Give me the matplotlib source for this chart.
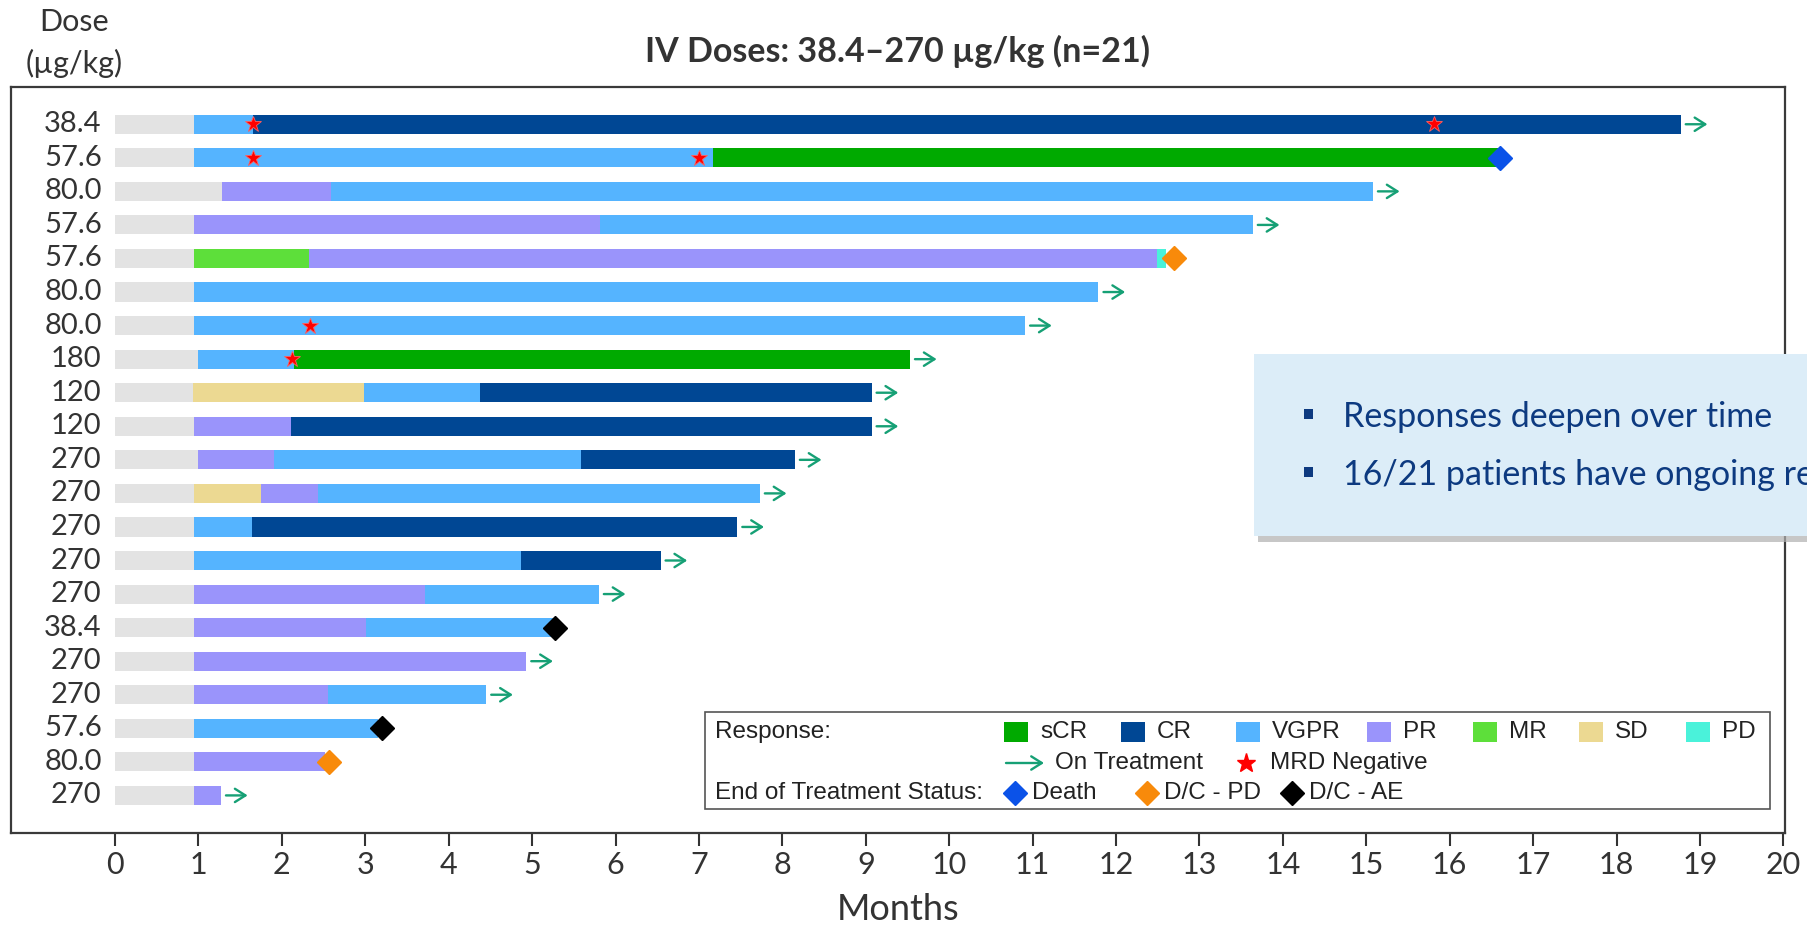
import matplotlib
matplotlib.use('Agg')
import matplotlib.pyplot as plt
from matplotlib.patches import Rectangle

plt.rcParams['font.family'] = ['Lato', 'DejaVu Sans']

# one row per patient, top to bottom
doses = ['38.4', '57.6', '80.0', '57.6', '57.6', '80.0', '80.0', '180', '120', '120', '270',
         '270', '270', '270', '270', '38.4', '270', '270', '57.6', '80.0', '270']
tx_start = [0.95, 0.95, 1.28, 0.95, 0.95, 0.95, 0.95, 0.99, 0.93, 0.95, 0.99,
            0.95, 0.95, 0.95, 0.95, 0.95, 0.95, 0.95, 0.95, 0.95, 0.95]
resp_seq = [
    ['VGPR', 'CR'],
    ['VGPR', 'sCR'],
    ['PR', 'VGPR'],
    ['PR', 'VGPR'],
    ['MR', 'PR', 'PD'],
    ['VGPR'],
    ['VGPR'],
    ['VGPR', 'sCR'],
    ['SD', 'VGPR', 'CR'],
    ['PR', 'CR'],
    ['PR', 'VGPR', 'CR'],
    ['SD', 'PR', 'VGPR'],
    ['VGPR', 'CR'],
    ['VGPR', 'CR'],
    ['PR', 'VGPR'],
    ['PR', 'VGPR'],
    ['PR'],
    ['PR', 'VGPR'],
    ['VGPR'],
    ['PR'],
    ['PR'],
]
resp_end = [
    [1.65, 18.77],
    [7.17, 16.60],
    [2.59, 15.08],
    [5.81, 13.64],
    [2.33, 12.49, 12.60],
    [11.79],
    [10.91],
    [2.14, 9.53],
    [2.99, 4.37, 9.07],
    [2.11, 9.07],
    [1.91, 5.59, 8.15],
    [1.75, 2.43, 7.73],
    [1.64, 7.46],
    [4.87, 6.54],
    [3.72, 5.80],
    [3.01, 5.25],
    [4.93],
    [2.55, 4.45],
    [3.15],
    [2.52],
    [1.27],
]
# MRD negative stars (row, month)
mrd_rows = [0, 0, 1, 1, 6, 7]
mrd_month = [1.65, 15.81, 1.65, 7.00, 2.34, 2.12]
# end of treatment (row, month, status)
eot_rows = [1, 4, 15, 18, 19]
eot_month = [16.60, 12.70, 5.27, 3.20, 2.56]
eot_status = ['Death', 'D/C - PD', 'D/C - AE', 'D/C - AE', 'D/C - PD']
on_treatment = [0, 2, 3, 5, 6, 7, 8, 9, 10, 11, 12, 13, 14, 16, 17, 20]

resp_colors = {'sCR': '#00aa00', 'CR': '#004794', 'VGPR': '#55b4ff', 'PR': '#9a94fb',
               'MR': '#5ddf3a', 'SD': '#ecd992', 'PD': '#4af2da'}
eot_colors = {'Death': '#0b52e8', 'D/C - PD': '#f88a0a', 'D/C - AE': '#000000'}
arrow_c = '#16a075'
grey = '#e3e3e3'
txt_c = '#333333'

W, H = 1807, 925
fig = plt.figure(figsize=(W / 100, H / 100), dpi=100)
ax = fig.add_axes([11 / W, 1 - 833 / H, 1774 / W, 746 / H])

bar_h = 0.57
for i in range(len(doses)):
    ax.barh(i, tx_start[i], left=0, height=bar_h, color=grey, zorder=2)
    left = tx_start[i]
    for r, e in zip(resp_seq[i], resp_end[i]):
        ax.barh(i, e - left, left=left, height=bar_h, color=resp_colors[r], zorder=2)
        left = e
    ax.text(-0.16, i, doses[i], ha='right', va='center', fontsize=21, color=txt_c)

arrow_props = dict(arrowstyle='->,head_length=0.38,head_width=0.24', color=arrow_c,
                   lw=1.7, mutation_scale=20, shrinkA=0, shrinkB=0)
for i in on_treatment:
    e = resp_end[i][-1]
    ax.annotate('', xy=(e + 0.32, i), xytext=(e + 0.06, i), arrowprops=arrow_props, zorder=3)

ax.plot(mrd_month, mrd_rows, ls='none', marker='*', ms=12, color='#ff0000',
        mec='#ff6060', mew=0.6, zorder=4)
for r, m, s in zip(eot_rows, eot_month, eot_status):
    ax.plot(m, r, ls='none', marker='D', ms=12, color=eot_colors[s], zorder=4)

ax.set_xlim(-1.247, 20.02)
ax.set_ylim(21.12, -1.11)
ax.set_xticks(range(0, 21))
ax.set_yticks([])
ax.tick_params(axis='x', length=9, width=1.5, pad=4, labelsize=22, colors=txt_c)
for sp in ax.spines.values():
    sp.set_color('#3a3a3a')
    sp.set_linewidth(1.6)
ax.set_xlabel('Months', fontsize=26, color=txt_c)
ax.xaxis.set_label_coords(0.5, -0.102)
ax.xaxis.label.set_va('center')

# overlay in pixel coordinates for title, headers, legend and callout box
ov = fig.add_axes([0, 0, 1, 1], zorder=5)
ov.set_xlim(0, W)
ov.set_ylim(H, 0)
ov.axis('off')
ov.patch.set_alpha(0)

ov.text(898, 51, 'IV Doses: 38.4–270 µg/kg (n=21)', ha='center', va='center',
        fontsize=24.5, fontweight='bold', color=txt_c)
ov.text(74, 22, 'Dose', ha='center', va='center', fontsize=22, color=txt_c)
ov.text(74, 63, '(µg/kg)', ha='center', va='center', fontsize=22, color=txt_c)

# legend
lf = dict(fontsize=17.5, color='#222222', va='center', family=['Liberation Sans', 'DejaVu Sans'])
ov.add_patch(Rectangle((705, 712), 1065, 97, fc='white', ec='#555555', lw=1.2))
ov.text(715, 732, 'Response:', **lf)
leg_names = ['sCR', 'CR', 'VGPR', 'PR', 'MR', 'SD', 'PD']
leg_x = [1016, 1133, 1248, 1379, 1485, 1591, 1698]
for n, x in zip(leg_names, leg_x):
    ov.add_patch(Rectangle((x - 12, 722), 24, 20, fc=resp_colors[n], ec='none'))
    ov.text(x + 24, 732, n, **lf)
ov.annotate('', xy=(1044, 763), xytext=(1006, 763), arrowprops=arrow_props)
ov.text(1055, 763, 'On Treatment', **lf)
ov.plot(1246, 763, marker='*', ms=14, color='#ff0000', ls='none')
ov.text(1270, 763, 'MRD Negative', **lf)
ov.text(715, 793, 'End of Treatment Status:', **lf)
for s, x in zip(['Death', 'D/C - PD', 'D/C - AE'], [1015, 1147, 1292]):
    ov.plot(x, 793, marker='D', ms=12, color=eot_colors[s], ls='none')
    ov.text(x + 17, 793, s, **lf)

# callout box (runs off the right edge)
ov.add_patch(Rectangle((1258, 360), 600, 182, fc='#b0b0b0', ec='none', alpha=0.7))
ov.add_patch(Rectangle((1254, 354), 600, 182, fc='#dcedf8', ec='none'))
box_c = '#0d3a80'
for y, s in zip([417, 475], ['Responses deepen over time', '16/21 patients have ongoing responses']):
    ov.add_patch(Rectangle((1304, y - 8), 9, 10, fc=box_c, ec='none'))
    ov.text(1343, y, s, ha='left', va='center', fontsize=24.5, color=box_c)

fig.savefig('out.png', dpi=100)
